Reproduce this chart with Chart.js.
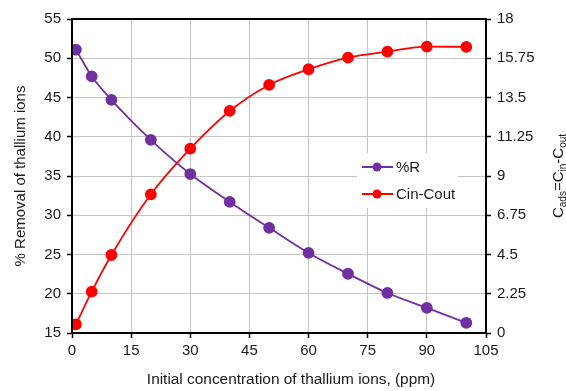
<!DOCTYPE html>
<html><head><meta charset="utf-8">
<script src="https://cdn.jsdelivr.net/npm/chart.js@4"></script>
<style>html,body{margin:0;padding:0;background:#fff}#wrap{width:566px;height:391px}</style>
</head><body><div id="wrap"><canvas id="c" width="566" height="391"></canvas></div>
<script>
const concentration = [1, 5, 10, 20, 30, 40, 50, 60, 70, 80, 90, 100];
const removalPercent = [51.1, 47.7, 44.7, 39.6, 35.25, 31.7, 28.4, 25.2, 22.55, 20.1, 18.2, 16.3];
const adsorbed = [0.5, 2.37, 4.47, 7.95, 10.57, 12.73, 14.22, 15.12, 15.79, 16.13, 16.42, 16.4];
const xTicks = [0, 15, 30, 45, 60, 75, 90, 105];
const leftTicks = [15, 20, 25, 30, 35, 40, 45, 50, 55];
const rightTicks = [0, 2.25, 4.5, 6.75, 9, 11.25, 13.5, 15.75, 18];
const seriesNames = ['%R', 'Cin-Cout'];
const xTitle = 'Initial concentration of thallium ions, (ppm)';
const leftTitle = '% Removal of thallium ions';

const PURPLE = '#7030A0', RED = '#FF0000', GRID = '#C4C4C4', TXT = '#1a1a1a';
const FONT = 'Liberation Sans, Arial, sans-serif';

const fixedTicks = arr => scale => { scale.ticks = arr.map(v => ({ value: v })); };

const decorPlugin = {
  id: 'decor',
  beforeDatasetsDraw(chart) {
    const { ctx } = chart;
    ctx.save();
    const bx = 357, by = 153, bw = 101, bh = 55;
    ctx.fillStyle = '#fff';
    ctx.fillRect(bx, by, bw, bh);
    const items = [[seriesNames[0], PURPLE, 167], [seriesNames[1], RED, 194]];
    ctx.font = '15px ' + FONT;
    ctx.textBaseline = 'middle';
    ctx.textAlign = 'left';
    items.forEach(([t, c, y]) => {
      ctx.strokeStyle = c; ctx.lineWidth = 2;
      ctx.beginPath(); ctx.moveTo(362, y); ctx.lineTo(393, y); ctx.stroke();
      ctx.fillStyle = c;
      ctx.beginPath(); ctx.arc(377, y, 4.5, 0, Math.PI * 2); ctx.fill();
      ctx.fillStyle = TXT;
      ctx.fillText(t, 396, y + 1);
    });
    ctx.restore();
  },
  afterDatasetsDraw(chart) {
    const { ctx, chartArea: a } = chart;
    ctx.save();
    ctx.strokeStyle = '#000'; ctx.lineWidth = 2;
    ctx.strokeRect(a.left, a.top, a.right - a.left, a.bottom - a.top);
    ctx.restore();
  },
  afterDraw(chart) {
    const { ctx, chartArea: a } = chart;
    ctx.save();
    // x axis title
    ctx.fillStyle = TXT;
    ctx.font = '15.4px ' + FONT;
    ctx.textAlign = 'center';
    ctx.textBaseline = 'middle';
    ctx.fillText(xTitle, 291, 380);
    // right axis title with subscripts
    ctx.translate(563, (a.top + a.bottom) / 2);
    ctx.rotate(-Math.PI / 2);
    ctx.textAlign = 'left';
    ctx.textBaseline = 'alphabetic';
    const parts = [['C', 15, 0], ['ads', 10, 2.5], ['=C', 15, 0], ['in', 10, 2.5], ['-C', 15, 0], ['out', 10, 2.5]];
    let w = 0;
    parts.forEach(([t, s]) => { ctx.font = s + 'px ' + FONT; w += ctx.measureText(t).width; });
    let x = -w / 2;
    parts.forEach(([t, s, dy]) => {
      ctx.font = s + 'px ' + FONT;
      ctx.fillText(t, x, dy);
      x += ctx.measureText(t).width;
    });
    ctx.restore();
  }
};

new Chart(document.getElementById('c'), {
  type: 'line',
  data: {
    datasets: [
      {
        label: seriesNames[0], yAxisID: 'yL',
        data: concentration.map((x, i) => ({ x, y: removalPercent[i] })),
        borderColor: PURPLE, backgroundColor: PURPLE, borderWidth: 1.8,
        pointRadius: 5, pointHoverRadius: 5, cubicInterpolationMode: 'monotone'
      },
      {
        label: seriesNames[1], yAxisID: 'yR',
        data: concentration.map((x, i) => ({ x, y: adsorbed[i] })),
        borderColor: RED, backgroundColor: RED, borderWidth: 1.8,
        pointRadius: 5, pointHoverRadius: 5, cubicInterpolationMode: 'monotone'
      }
    ]
  },
  options: {
    responsive: false, animation: false,
    layout: { padding: { top: 19, left: 0, right: 0, bottom: 0 } },
    plugins: { legend: { display: false }, tooltip: { enabled: false } },
    scales: {
      x: {
        type: 'linear', min: 0, max: 105,
        afterBuildTicks: fixedTicks(xTicks),
        afterFit: s => { s.height = 58; },
        grid: { color: GRID, lineWidth: 1, tickColor: '#000', tickLength: 5, tickWidth: 1.5 },
        border: { color: '#000', width: 2 },
        ticks: { color: TXT, font: { family: FONT, size: 15 }, padding: 4, maxRotation: 0 }
      },
      yL: {
        type: 'linear', position: 'left', min: 15, max: 55,
        afterBuildTicks: fixedTicks(leftTicks),
        afterFit: s => { s.width = 72; },
        grid: { color: GRID, lineWidth: 1, tickColor: '#000', tickLength: 5, tickWidth: 1.5 },
        border: { color: '#000', width: 2 },
        ticks: { color: TXT, font: { family: FONT, size: 15 }, padding: 6 },
        title: { display: true, text: leftTitle, color: TXT, font: { family: FONT, size: 15 }, padding: { top: 12, bottom: 0 } }
      },
      yR: {
        type: 'linear', position: 'right', min: 0, max: 18,
        afterBuildTicks: fixedTicks(rightTicks),
        afterFit: s => { s.width = 80; },
        grid: { drawOnChartArea: false, tickColor: '#000', tickLength: 5, tickWidth: 1.5 },
        border: { color: '#000', width: 2 },
        ticks: { color: TXT, font: { family: FONT, size: 15 }, padding: 6, callback: v => String(+(+v).toFixed(2)) }
      }
    }
  },
  plugins: [decorPlugin]
});
</script></body></html>
